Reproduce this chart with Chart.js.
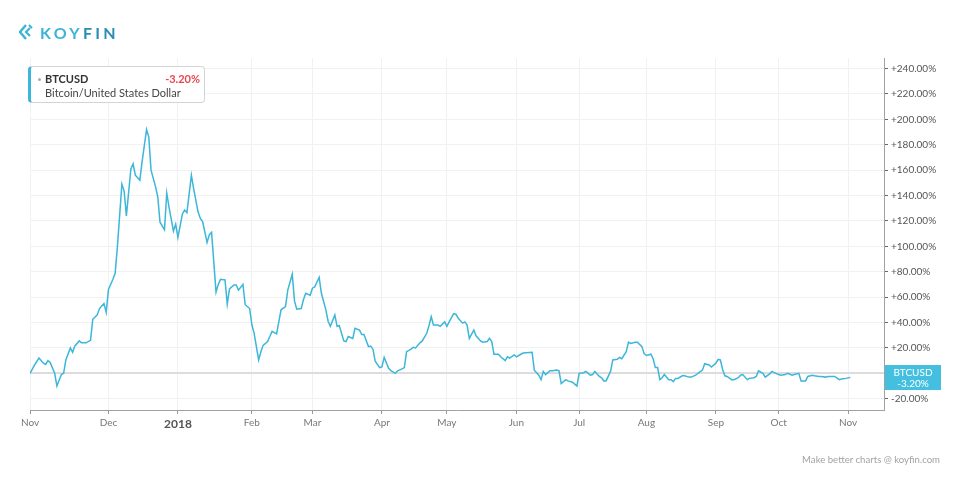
<!DOCTYPE html>
<html>
<head>
<meta charset="utf-8">
<script src="https://cdn.jsdelivr.net/npm/chart.js@4"></script>
<style>
body { margin: 0; background: #fff; font-family: Lato, "Open Sans", sans-serif; }
#wrap { position: relative; width: 960px; height: 480px; overflow: hidden; }
#chart { position: absolute; left: 0; top: 0; }
.logo { position: absolute; left: 19px; top: 23px; height: 18px; display: flex; align-items: center; }
.logo span { font-weight: 700; font-size: 16px; letter-spacing: 3.3px; margin-left: 7px; color: #3bb4d6; }
.logo b { color: #2a8db4; font-weight: 700; }
.legend { position: absolute; left: 28px; top: 66px; width: 177px; height: 37px; background: #fff;
  border: 1px solid #d4d4d4; border-left: 3px solid #3cb6d9; border-radius: 4px; box-sizing: border-box; }
.legend .dot { position: absolute; left: 7px; top: 11px; width: 3px; height: 3px; border-radius: 50%; background: #aaa; }
.legend .sym { position: absolute; left: 14px; top: 5px; font-weight: 700; font-size: 11px; color: #333; }
.legend .chg { position: absolute; right: 4px; top: 5px; font-weight: 700; font-size: 11px; color: #e8474f; }
.legend .name { position: absolute; left: 14px; top: 19px; font-size: 11px; color: #444; }
.foot { position: absolute; right: 20px; top: 454px; font-size: 9.6px; color: #a3a3a3; }
</style>
</head>
<body>
<div id="wrap">
  <canvas id="chart" width="960" height="480"></canvas>
  <div class="logo">
    <svg width="14" height="16" viewBox="0 0 14 16">
      <path d="M7 1 L1 8 L7 15" fill="none" stroke="#3bb4d6" stroke-width="2.4"/>
      <path d="M11 4 L7 8 L11 12" fill="none" stroke="#3bb4d6" stroke-width="2.2"/>
      <path d="M10 1 L13 4" fill="none" stroke="#3bb4d6" stroke-width="2"/>
    </svg>
    <span>KOY<b>FIN</b></span>
  </div>
  <div class="legend">
    <div class="dot"></div>
    <div class="sym">BTCUSD</div>
    <div class="chg">-3.20%</div>
    <div class="name">Bitcoin/United States Dollar</div>
  </div>
  <div class="foot">Make better charts @ koyfin.com</div>
</div>
<script>
// SESSIONS SINCE NOV 1 2017 (AXIS IS ORDINAL, NOT CALENDAR DAYS)
var sessions = [0, 2, 4, 6, 7, 8, 9, 11, 12, 14, 15, 16, 18, 19, 20, 22, 23, 25, 27, 28, 30, 31, 33, 34, 35, 37, 38, 39,
	41, 42, 43, 45, 46, 47, 49, 50, 52, 53, 54, 56, 57, 58, 60, 61, 62, 64, 65, 66, 68, 69, 70, 72, 73, 75, 76, 77, 79, 80, 81,
	83, 84, 85, 87, 88, 89, 91, 92, 93, 95, 96, 98, 99, 100, 102, 103, 104, 106, 107, 108, 110, 111, 112, 114, 115, 117, 118, 119,
	121, 122, 123, 125, 126, 127, 129, 130, 132, 133, 134, 136, 137, 138, 140, 141, 142, 144, 145, 147, 148, 149, 151, 152, 153, 154,
	156, 157, 158, 160, 161, 163, 164, 166, 167, 168, 170, 171, 172, 174, 175, 177, 178, 179, 180, 182, 183, 185, 186, 187, 189, 190,
	191, 193, 194, 195, 196, 198, 199, 201, 202, 204, 205, 206, 207, 209, 210, 212, 213, 214, 216, 217, 219, 220, 224, 225, 227, 228,
	229, 230, 232, 233, 235, 236, 237, 239, 240, 242, 243, 244, 245, 247, 248, 250, 251, 252, 254, 255, 256, 257, 259, 260, 262, 263,
	264, 266, 267, 268, 270, 271, 273, 274, 275, 277, 278, 279, 280, 281, 282, 283, 285, 286, 287, 288, 289, 291, 292, 294, 295, 297,
	298, 300, 301, 303, 304, 306, 307, 308, 309, 310, 311, 313, 314, 316, 317, 318, 320, 321, 323, 324, 325, 327, 328, 330, 331, 332,
	334, 335, 337, 338, 340, 341, 343, 344, 346, 347, 349, 350, 352, 353, 355, 356, 358, 359, 361, 362, 364, 366];

// BTCUSD % CHANGE
var btcChange = [0, 6.5, 12, 8, 7, 10, 8.5, 0, -10, -1, 0, 10.5, 20, 16.5, 21.5, 25.5, 24, 24, 26, 42.5, 46, 51, 55, 48, 66, 74, 79, 100,
	149, 143.5, 124, 161, 165, 156, 152, 166.5, 192, 186, 160, 147, 139, 119, 113, 142, 131, 112, 117.5, 107, 125.5, 128.5, 126.5, 156, 145.5, 127, 122, 119.5, 103, 109, 111,
	64, 70, 74, 73.5, 54.5, 66.5, 69.5, 69.5, 65.5, 70, 54, 51, 38, 31.5, 10.5, 17, 22, 25, 29, 33, 31, 40.5, 50, 52.5, 65.5, 78, 57, 50.5,
	51, 58, 63, 61.5, 67, 68, 75.5, 63, 50, 41, 37, 46, 37, 37.5, 25.5, 25, 29, 27.5, 35.5, 34, 30.5, 30.5, 21, 21.5, 19, 9.5,
	4.5, 5, 12.5, 4, 2, 0, 2, 3.5, 4.5, 17, 19, 20.5, 20, 24, 25.5, 31.5, 37.5, 44.5, 38, 38, 37, 40.5, 37, 40.5, 47, 46.5,
	43.5, 39.5, 40.5, 38, 27.5, 34, 29.5, 25.5, 24.5, 25, 27.5, 25, 15, 15, 13, 10, 13, 12, 14.5, 13, 15, 16, 16.5, 2.5, -1.5, -5,
	1.5, -1, 2, 2, 2.5, 2, -8, -5, -6, -7, -8.5, -10, 0, 0.5, 1.5, -1.5, -1, 1.5, -2.5, -3.5, -6, -6, 1.5, 10.5, 11, 12.5,
	11.5, 17, 24.5, 23.5, 24.5, 24.5, 21, 15.5, 14, 15, 11.5, 4.5, 4.5, -5, -3.5, -1, -5, -5, -6.5, -4, -4, -2, -2, -3, -3, -1.5,
	0, 2.5, 7.5, 6.5, 5, 8, 11, 10.5, 3, -2, -2.5, -5, -5, -3.5, -1.5, -1, -5, -4, -3.5, -2.5, 2, 0, -3, -0.5, 1.5, 0.5,
	-1, -1.5, -1, 0, -1.5, -1, 0, -6, -6, -2.5, -1.5, -2, -2.5, -2.5, -3, -2.5, -2.5, -2.5, -5, -4.5, -4, -3.2];

// X AXIS MONTH TICKS
var monthTicks = [0, 35, 66, 99, 126, 157, 186, 217, 245, 275, 306, 334, 365];
var monthLabels = ['Nov', 'Dec', '2018', 'Feb', 'Mar', 'Apr', 'May', 'Jun', 'Jul', 'Aug', 'Sep', 'Oct', 'Nov'];

// Y AXIS TICKS
var pctTicks = [-20, 0, 20, 40, 60, 80, 100, 120, 140, 160, 180, 200, 220, 240];

var lineColor = '#3cb6d9';

// LAST VALUE BADGE ON THE RIGHT AXIS
var lastBadge = {
	id: 'lastBadge',
	afterDraw: function(chart) {
		var c = chart.ctx;
		var last = btcChange[btcChange.length - 1];
		var y = chart.scales.y.getPixelForValue(last);
		var x = chart.chartArea.right + 1;
		c.save();
		c.fillStyle = '#45bfe0';
		c.fillRect(x, Math.round(y) - 12, 56, 25);
		c.fillStyle = '#fff';
		c.font = '10px Lato';
		c.textAlign = 'center';
		c.textBaseline = 'middle';
		c.fillText('BTCUSD', x + 28, y - 5);
		c.fillText((last > 0 ? '+' : '') + last.toFixed(2) + '%', x + 28, y + 6);
		c.restore();
	}
};

var ctx = document.getElementById('chart').getContext('2d');
var btcChart = new Chart(ctx, {
	type: 'line',
	data: {
		datasets: [{
			label: 'BTCUSD',
			data: sessions.map(function(s, i) { return {x: s, y: btcChange[i]}; }),
			borderColor: lineColor,
			borderWidth: 1.5,
			pointRadius: 0,
			tension: 0,
			fill: false
		}]
	},
	options: {
		responsive: false,
		animation: false,
		layout: {
			padding: {left: 30, top: 58, right: 0, bottom: 0}
		},
		plugins: {
			legend: {display: false},
			tooltip: {enabled: false}
		},
		scales: {
			x: {
				type: 'linear',
				min: 0,
				max: 381,
				afterBuildTicks: function(scale) {
					scale.ticks = monthTicks.map(function(v) { return {value: v}; });
				},
				afterFit: function(scale) { scale.height = 70; },
				grid: {color: '#f1f1f1', tickColor: '#999', tickLength: 4},
				border: {color: '#a0a0a0'},
				ticks: {
					autoSkip: false,
					maxRotation: 0,
					padding: 3,
					color: function(c) { return c.index === 2 ? '#555' : '#777'; },
					font: function(c) {
						return c.index === 2 ? {family: 'Lato', size: 12, weight: 'bold'} : {family: 'Lato', size: 10};
					},
					callback: function(v, i) { return monthLabels[i]; }
				}
			},
			y: {
				position: 'right',
				min: -28.9,
				max: 248.3,
				afterBuildTicks: function(scale) {
					scale.ticks = pctTicks.map(function(v) { return {value: v}; });
				},
				afterFit: function(scale) { scale.width = 76; },
				grid: {
					color: function(c) { return c.tick && c.tick.value === 0 ? '#dcdcdc' : '#f1f1f1'; },
					lineWidth: function(c) { return c.tick && c.tick.value === 0 ? 2 : 1; },
					tickColor: '#666',
					tickLength: 4
				},
				border: {color: '#a0a0a0'},
				ticks: {
					padding: 3,
					color: '#555',
					font: {family: 'Lato', size: 10},
					callback: function(v) {
						if (v === 0) return '';
						return (v > 0 ? '+' : '') + v.toFixed(2) + '%';
					}
				}
			}
		}
	},
	plugins: [lastBadge]
});
</script>
</body>
</html>
